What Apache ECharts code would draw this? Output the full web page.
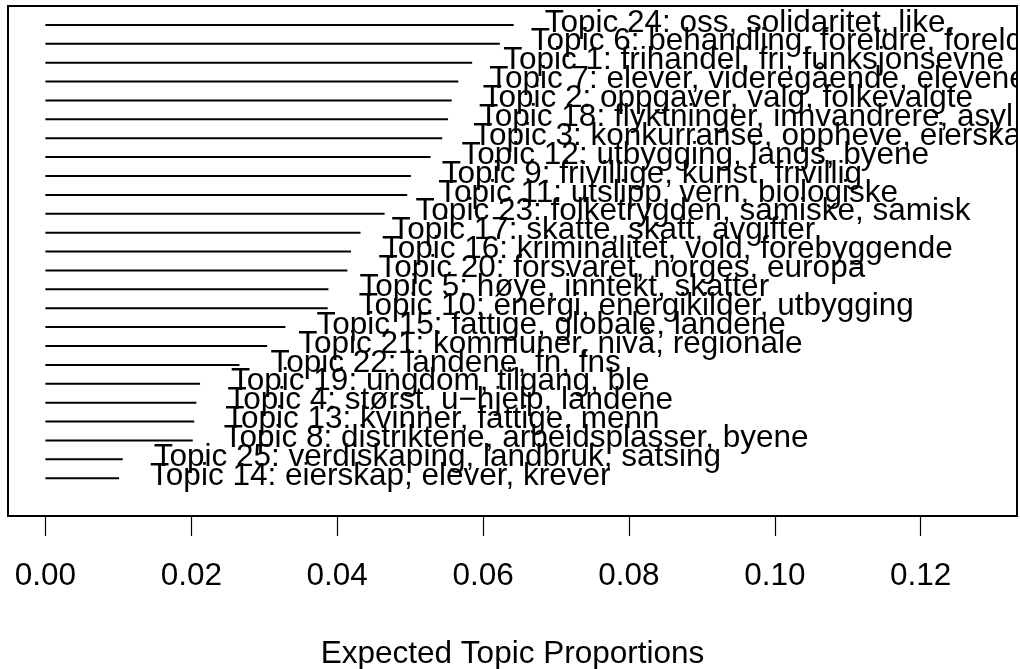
<!DOCTYPE html>
<html>
<head>
<meta charset="utf-8">
<title>Expected Topic Proportions</title>
<script src="https://cdn.jsdelivr.net/npm/echarts@6/dist/echarts.min.js"></script>
<style>
  html, body { margin: 0; padding: 0; background: #fff; }
  #chart { width: 1020px; height: 669px; }
</style>
</head>
<body>
<div id="chart"></div>
<script>
// topics from top to bottom, as in the plot
const topicLabels = [
  'Topic 24: oss, solidaritet, like,',
  'Topic 6: behandling, foreldre, foreldrene',
  'Topic 1: frihandel, fri, funksjonsevne',
  'Topic 7: elever, videregående, elevene',
  'Topic 2: oppgaver, valg, folkevalgte',
  'Topic 18: flyktninger, innvandrere, asyl',
  'Topic 3: konkurranse, oppheve, eierskap',
  'Topic 12: utbygging, langs, byene',
  'Topic 9: frivillige, kunst, frivillig',
  'Topic 11: utslipp, vern, biologiske',
  'Topic 23: folketrygden, samiske, samisk',
  'Topic 17: skatte, skatt, avgifter',
  'Topic 16: kriminalitet, vold, forebyggende',
  'Topic 20: forsvaret, norges, europa',
  'Topic 5: høye, inntekt, skatter',
  'Topic 10: energi, energikilder, utbygging',
  'Topic 15: fattige, globale, landene',
  'Topic 21: kommuner, nivå, regionale',
  'Topic 22: landene, fn, fns',
  'Topic 19: ungdom, tilgang, ble',
  'Topic 4: størst, u\u2212hjelp, landene',
  'Topic 13: kvinner, fattige, menn',
  'Topic 8: distriktene, arbeidsplasser, byene',
  'Topic 25: verdiskaping, landbruk, satsing',
  'Topic 14: eierskap, elever, krever'
]

const proportions = [
  0.0642, 0.0623, 0.0585, 0.0566, 0.0557, 0.0552, 0.0544, 0.0528, 0.0501,
  0.0496, 0.0465, 0.0432, 0.0419, 0.0414, 0.0388, 0.0387, 0.0329, 0.0304,
  0.0266, 0.0212, 0.0207, 0.0204, 0.0202, 0.0106, 0.0101
]

const xTicks = [0, 0.02, 0.04, 0.06, 0.08, 0.10, 0.12]

const FONT = '"Liberation Sans", Arial, Helvetica, sans-serif'
const n = topicLabels.length

// row n is the top line, row 1 the bottom one
const seriesData = proportions.map((p, i) => [p, n - i])

const chart = echarts.init(document.getElementById('chart'), null, { renderer: 'canvas' })

chart.setOption({
  animation: false,
  backgroundColor: '#fff',
  grid: {
    left: 8,
    right: 3,
    top: 6,
    bottom: 153,
    outerBoundsMode: 'none',
    containLabel: false,
    show: true,
    borderColor: '#000',
    borderWidth: 2,
    backgroundColor: 'transparent',
  },
  xAxis: {
    type: 'value',
    min: -0.00513,
    max: 0.1332,
    name: 'Expected Topic Proportions',
    nameLocation: 'middle',
    nameGap: 122,
    nameTextStyle: { color: '#000', fontSize: 31.5, fontFamily: FONT },
    axisLine: { show: false, onZero: false },
    axisTick: {
      show: true,
      customValues: xTicks,
      length: 20,
      lineStyle: { color: '#000', width: 1.2 },
    },
    axisLabel: {
      customValues: xTicks,
      color: '#000',
      fontSize: 31.5,
      fontFamily: FONT,
      margin: 44,
      formatter: (v) => v.toFixed(2),
    },
    splitLine: { show: false },
  },
  yAxis: {
    type: 'value',
    min: -1,
    max: n + 1,
    show: false,
  },
  series: [
    {
      type: 'custom',
      clip: true,
      data: seriesData,
      renderItem: (params, api) => {
        const start = api.coord([0, api.value(1)])
        const end = api.coord([api.value(0), api.value(1)])
        return {
          type: 'group',
          children: [
            {
              type: 'line',
              shape: { x1: start[0], y1: start[1], x2: end[0], y2: end[1] },
              style: { stroke: '#000', lineWidth: 2 },
            },
            {
              type: 'text',
              x: end[0] + 31,
              y: end[1] - 2,
              style: {
                text: topicLabels[params.dataIndex],
                fill: '#000',
                fontSize: 31.5,
                fontFamily: FONT,
                verticalAlign: 'middle',
                align: 'left',
              },
            },
          ],
        }
      },
    },
  ],
})
</script>
</body>
</html>
